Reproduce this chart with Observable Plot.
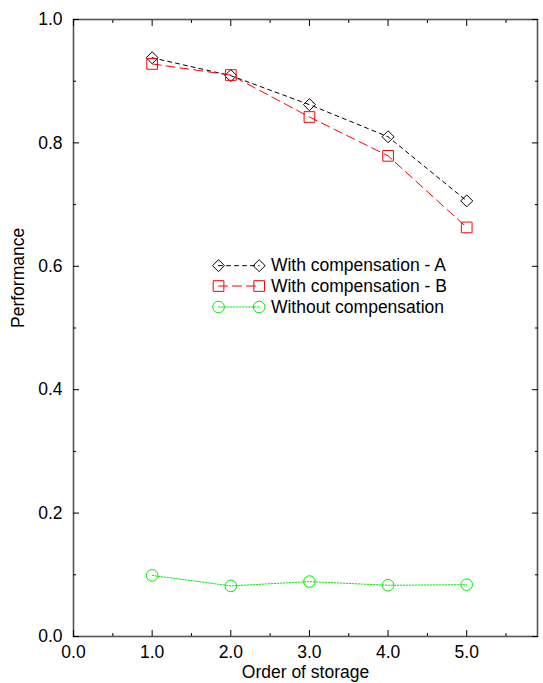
<!DOCTYPE html>
<html><head><meta charset="utf-8">
<script src="https://cdn.jsdelivr.net/npm/d3@7"></script>
<script src="https://cdn.jsdelivr.net/npm/@observablehq/plot@0.6"></script>
<style>body{margin:0;background:#fff} svg{display:block}</style>
</head><body><div id="chart"></div>
<script>
// ---- data ----
const order = [1, 2, 3, 4, 5];
const compA = [0.938, 0.909, 0.862, 0.810, 0.706];
const compB = [0.928, 0.910, 0.842, 0.779, 0.663];
const noComp = [0.099, 0.082, 0.089, 0.083, 0.084];
const seriesNames = ["With compensation - A", "With compensation - B", "Without compensation"];
const xMajor = [0, 1, 2, 3, 4, 5];
const xMinor = [0.5, 1.5, 2.5, 3.5, 4.5, 5.5];
const yMajor = [0, 0.2, 0.4, 0.6, 0.8, 1.0];
const yMinor = [0.1, 0.3, 0.5, 0.7, 0.9];
const xTitle = "Order of storage";
const yTitle = "Performance";

// ---- styles / layout ----
const styles = [
  {stroke: "#000000", dash: "4,4", symbol: "diamond2", r: 5.4},
  {stroke: "#ff0000", dash: "9,5", symbol: "square2", r: 6.8},
  {stroke: "#00ee00", dash: "1.5,1.5", symbol: "circle", r: 5.8}
];
const xDomain = [0, 5.9];
const yDomain = [0, 1];
const legendLineX = [1.844, 2.361];
const legendTextX = 2.51;
const legendRowY = [0.601, 0.568, 0.534];
const fontFamily = "'Liberation Sans', Arial, Helvetica, sans-serif";
const fs = 17.5;

const valuesBySeries = [compA, compB, noComp];
const rows = valuesBySeries.flatMap((vals, s) => order.map((o, i) => ({series: s, x: o, y: vals[i]})));
const legendRows = seriesNames.map((name, s) => ({series: s, name, y: legendRowY[s]}));
const legendPts = legendRows.flatMap(d => legendLineX.map(x => ({...d, x})));

const marks = [];
styles.forEach((st, s) => {
  const data = rows.filter(d => d.series === s);
  marks.push(Plot.line(data, {x: "x", y: "y", stroke: st.stroke, strokeWidth: 1, strokeDasharray: st.dash}));
  marks.push(Plot.dot(data, {x: "x", y: "y", symbol: () => st.symbol, r: st.r, stroke: st.stroke, fill: "none", strokeWidth: 1}));
  const lp = legendPts.filter(d => d.series === s);
  marks.push(Plot.line(lp, {x: "x", y: "y", stroke: st.stroke, strokeWidth: 1, strokeDasharray: st.dash}));
  marks.push(Plot.dot(lp, {x: "x", y: "y", symbol: () => st.symbol, r: st.r, stroke: st.stroke, fill: "none", strokeWidth: 1}));
});

const axisCommon = {stroke: "#000", fontSize: fs, tickFormat: d => d.toFixed(1), fill: "#000"};

const chart = Plot.plot({
  width: 543,
  height: 683,
  marginLeft: 73,
  marginRight: 6,
  marginTop: 19,
  marginBottom: 47,
  style: {fontFamily, background: "#fff"},
  x: {domain: xDomain, axis: null},
  y: {domain: yDomain, axis: null},
  marks: [
    Plot.frame({stroke: "#555", strokeWidth: 1.6}),
    // major ticks with labels
    Plot.axisX(xMajor, {...axisCommon, anchor: "bottom", tickSize: -6, tickPadding: 15, label: null}),
    Plot.axisY(yMajor, {...axisCommon, anchor: "left", tickSize: -6, tickPadding: 17, label: null}),
    // mirrored major ticks
    Plot.axisX(xMajor, {anchor: "top", tickSize: -6, text: null, label: null, stroke: "#000"}),
    Plot.axisY(yMajor, {anchor: "right", tickSize: -6, text: null, label: null, stroke: "#000"}),
    // minor ticks
    Plot.axisX(xMinor, {anchor: "bottom", tickSize: -3, text: null, label: null, stroke: "#000"}),
    Plot.axisX(xMinor, {anchor: "top", tickSize: -3, text: null, label: null, stroke: "#000"}),
    Plot.axisY(yMinor, {anchor: "left", tickSize: -3, text: null, label: null, stroke: "#000"}),
    Plot.axisY(yMinor, {anchor: "right", tickSize: -3, text: null, label: null, stroke: "#000"}),
    ...marks,
    Plot.text(legendRows, {x: () => legendTextX, y: "y", text: "name", textAnchor: "start", fontSize: fs, fill: "#000"}),
    Plot.text([xTitle], {frameAnchor: "bottom", dy: 29, lineAnchor: "top", fontSize: fs, fill: "#000"}),
    Plot.text([yTitle], {frameAnchor: "left", dx: -55, rotate: -90, fontSize: fs, fill: "#000"})
  ]
});
document.getElementById("chart").append(chart);
</script>
</body></html>
